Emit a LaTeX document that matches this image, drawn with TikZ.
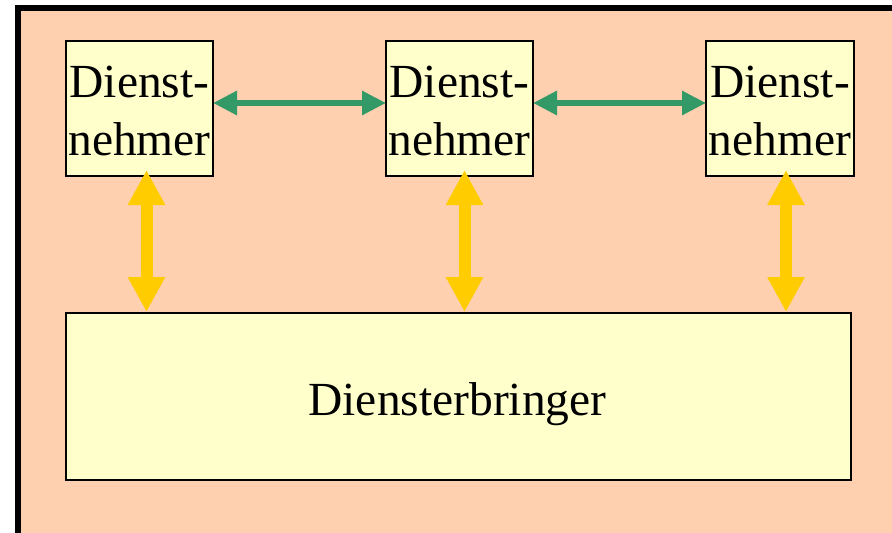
\documentclass[tikz,border=0pt]{standalone}
\usepackage{fontspec}
\setmainfont{Liberation Serif}
\usetikzlibrary{arrows.meta}
\definecolor{salmon}{HTML}{FFD0B0}
\definecolor{boxfill}{HTML}{FFFFCC}
\definecolor{grn}{HTML}{339966}
\definecolor{ylw}{HTML}{FFCC00}
\tikzset{
  box/.style={draw=black, line width=2pt, fill=boxfill, inner sep=0pt, outer sep=0pt},
  lbl/.style={anchor=base, inner sep=0pt, font=\fontsize{47.5}{56}\selectfont},
  garrow/.style={draw=grn, line width=6pt, {Triangle[length=24pt,width=23pt]}-{Triangle[length=24pt,width=23pt]}},
  yarrow/.style={draw=ylw, line width=12pt, {Triangle[length=35pt,width=35pt]}-{Triangle[length=35pt,width=35pt]}}
}
\begin{document}
\begin{tikzpicture}[x=1pt,y=-1pt]
\useasboundingbox (0,0) rectangle (892,533);
\begin{scope}
\clip (0,0) rectangle (892,533);
\fill[white] (0,0) rectangle (892,533);
\draw[line width=6pt, fill=salmon] (18,8) rectangle (905,545);
\end{scope}
\node[box, minimum width=147pt, minimum height=135pt] (n1) at (139.5,108.5) {};
\node[box, minimum width=147pt, minimum height=135pt] (n2) at (459.5,108.5) {};
\node[box, minimum width=148pt, minimum height=135pt] (n3) at (780,108.5) {};
\node[box, minimum width=785pt, minimum height=167pt] (big) at (458.5,396.5) {};
\node[lbl] (t1a) at (139.5,97) {Dienst-};
\node[lbl] (t1b) at (139.5,155) {nehmer};
\node[lbl] (t2a) at (459.5,97) {Dienst-};
\node[lbl] (t2b) at (459.5,155) {nehmer};
\node[lbl] (t3a) at (780,97) {Dienst-};
\node[lbl] (t3b) at (780,155) {nehmer};
\node[lbl] (tb) at (457.5,415) {Diensterbringer};
\draw[garrow] ([yshift=5.5pt]n1.east) -- ([yshift=5.5pt]n2.west);
\draw[garrow] ([yshift=5.5pt]n2.east) -- ([yshift=5.5pt]n3.west);
\draw[yarrow] ([shift={(7pt,6pt)}]n1.south) -- ([shift={(7pt,1pt)}]n1.south |- big.north);
\draw[yarrow] ([shift={(5pt,6pt)}]n2.south) -- ([shift={(5pt,1pt)}]n2.south |- big.north);
\draw[yarrow] ([shift={(6pt,6pt)}]n3.south) -- ([shift={(6pt,1pt)}]n3.south |- big.north);
\end{tikzpicture}
\end{document}
